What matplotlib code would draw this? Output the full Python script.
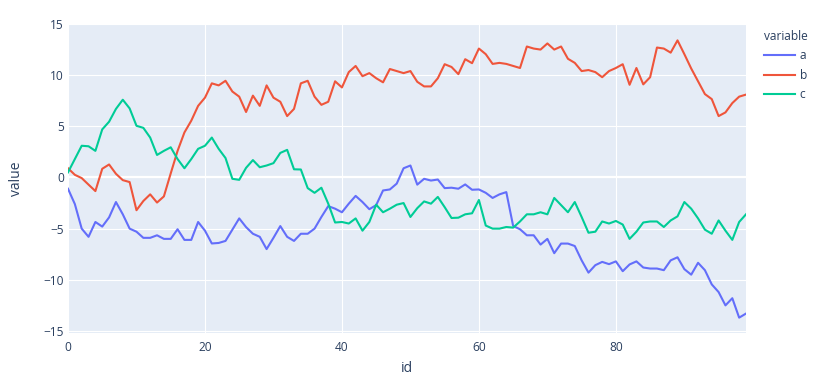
import matplotlib
matplotlib.use("Agg")
import matplotlib.pyplot as plt
import numpy as np

ids = list(range(100))
a = [-1.1, -2.6, -5.0, -5.8, -4.35, -4.8, -3.9, -2.4, -3.6, -5.0, -5.3, -5.9, -5.9, -5.65, -6.0, -6.0, -5.06,
     -6.1, -6.1, -4.35, -5.2, -6.45, -6.4, -6.2, -5.1, -4.0, -4.85, -5.5, -5.8, -7.0, -5.9, -4.75, -5.8, -6.2,
     -5.5, -5.5, -5.0, -3.86, -2.8, -3.05, -3.4, -2.56, -1.8, -2.4, -3.1, -2.7, -1.27, -1.17, -0.6, 0.9, 1.17,
     -0.7, -0.13, -0.3, -0.2, -1.04, -1.0, -1.1, -0.68, -1.2, -1.17, -1.5, -2.0, -1.65, -1.43, -4.74, -5.06, -5.65,
     -5.65, -6.56, -6.0, -7.4, -6.46, -6.46, -6.7, -8.1, -9.3, -8.57, -8.25, -8.47, -8.2, -9.16, -8.5, -8.2,
     -8.8, -8.9, -8.9, -9.06, -8.1, -7.8, -8.96, -9.5, -8.34, -9.06, -10.45, -11.2, -12.5, -11.8, -13.7, -13.3]
b = [0.9, 0.26, -0.06, -0.7, -1.33, 0.85, 1.27, 0.36, -0.26, -0.45, -3.2, -2.3, -1.65, -2.45, -1.85, 0.4, 2.6,
     4.4, 5.55, 7.0, 7.8, 9.2, 9.0, 9.45, 8.4, 7.9, 6.4, 8.0, 7.0, 9.0, 7.8, 7.4, 6.0, 6.7,
     9.2, 9.45, 7.9, 7.1, 7.4, 9.4, 8.8, 10.3, 10.9, 9.9, 10.2, 9.7, 9.3, 10.6, 10.4, 10.2, 10.4,
     9.35, 8.9, 8.9, 9.7, 11.07, 10.8, 10.1, 11.56, 11.17, 12.6, 12.05, 11.1, 11.2, 11.1, 10.9, 10.7, 12.8,
     12.6, 12.5, 13.1, 12.5, 12.8, 11.6, 11.2, 10.4, 10.5, 10.3, 9.8, 10.4, 10.7, 11.07, 9.06, 10.7,
     9.1, 9.8, 12.7, 12.6, 12.2, 13.4, 12.05, 10.65, 9.4, 8.15, 7.66, 6.0, 6.36, 7.27, 7.9, 8.1]
c = [0.5, 1.8, 3.1, 3.05, 2.6, 4.7, 5.45, 6.7, 7.6, 6.75, 5.05, 4.85, 3.9, 2.2, 2.6, 2.95, 1.8,
     0.9, 1.8, 2.8, 3.1, 3.9, 2.8, 1.9, -0.13, -0.23, 0.94, 1.7, 1.0, 1.17, 1.4, 2.4, 2.7, 0.8,
     0.78, -1.04, -1.5, -1.0, -2.56, -4.4, -4.35, -4.5, -4.0, -5.2, -4.35, -2.66, -3.4, -3.05, -2.66, -2.5, -3.86,
     -3.0, -2.34, -2.56, -1.9, -2.9, -3.96, -3.93, -3.6, -3.5, -2.2, -4.7, -5.0, -5.0, -4.84, -4.9, -4.3, -3.6,
     -3.6, -3.4, -3.6, -2.0, -2.7, -3.4, -2.4, -3.86, -5.4, -5.3, -4.3, -4.5, -4.25, -4.6, -6.0, -5.3,
     -4.4, -4.3, -4.3, -4.84, -4.2, -3.8, -2.4, -3.05, -4.0, -5.1, -5.5, -4.2, -5.2, -6.1, -4.35, -3.6]

series_names = ["a", "b", "c"]
colors = ["#636EFA", "#EF553B", "#00CC96"]
xticks = [0, 20, 40, 60, 80]
yticks = [-15, -10, -5, 0, 5, 10, 15]

plt.rcParams['font.family'] = ['Open Sans', 'DejaVu Sans']
txt = "#2a3f5f"

fig = plt.figure(figsize=(8.35, 3.82), dpi=100)
ax = fig.add_axes([68/835, 1-333/382, (746-68)/835, (333-24)/382])
ax.set_facecolor("#E5ECF6")

for name, vals, col in zip(series_names, [a, b, c], colors):
    ax.plot(ids, vals, color=col, lw=1.5, label=name, zorder=3, solid_joinstyle='round')

ax.set_xlim(0, 99)
ax.set_ylim(-15.2, 14.9)
ax.set_xticks(xticks)
ax.set_yticks(yticks)
ax.grid(True, color="white", lw=0.8, zorder=0)
ax.axhline(0, color="white", lw=1.6, zorder=1)
ax.set_axisbelow(True)
for s in ax.spines.values():
    s.set_visible(False)
ax.tick_params(length=0, labelsize=8.6, colors=txt, pad=6)
ax.tick_params(axis='y', pad=3)
ax.set_xlabel("id", fontsize=10, color=txt, labelpad=5)
ax.set_ylabel("value", fontsize=10, color=txt, labelpad=14)

leg = ax.legend(loc="upper left", bbox_to_anchor=(759/835, 1-25/382), bbox_transform=fig.transFigure,
                frameon=False, title="variable", fontsize=8.6, title_fontsize=8.6,
                handlelength=2.6, handletextpad=0.4, labelspacing=0.55, borderaxespad=0)
leg._legend_box.align = "left"
for t in leg.get_texts():
    t.set_color(txt)
leg.get_title().set_color(txt)

fig.savefig("out.png", dpi=100)
